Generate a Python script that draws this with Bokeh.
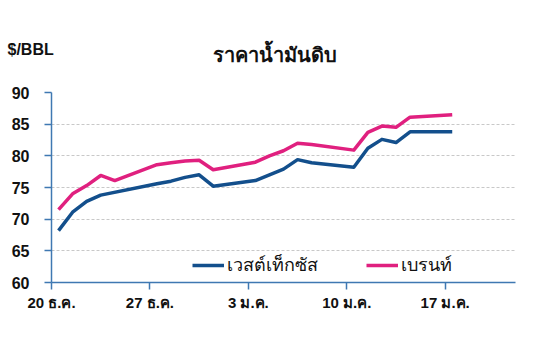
import pandas as pd
from bokeh.plotting import figure
from bokeh.models import Range1d, FixedTicker, Title, Legend, LegendItem
from bokeh.embed import file_html
from bokeh.resources import INLINE

# ---- data ----
title_text = "ราคาน้ำมันดิบ"
unit_text = "$/BBL"
series_names = ["เวสต์เท็กซัส", "เบรนท์"]

wti_dates = ["2021-12-20", "2021-12-21", "2021-12-22", "2021-12-23", "2021-12-27",
             "2021-12-28", "2021-12-29", "2021-12-30", "2021-12-31", "2022-01-03",
             "2022-01-04", "2022-01-05", "2022-01-06", "2022-01-07", "2022-01-10",
             "2022-01-11", "2022-01-12", "2022-01-13", "2022-01-14", "2022-01-17"]
wti_values = [68.2, 71.1, 72.8, 73.8, 75.6, 76.0, 76.6, 77.0, 75.2, 76.1,
              77.0, 77.9, 79.4, 78.9, 78.2, 81.2, 82.6, 82.1, 83.8, 83.8]

brent_dates = ["2021-12-20", "2021-12-21", "2021-12-22", "2021-12-23", "2021-12-24",
               "2021-12-27", "2021-12-28", "2021-12-29", "2021-12-30", "2021-12-31",
               "2022-01-03", "2022-01-04", "2022-01-05", "2022-01-06", "2022-01-07",
               "2022-01-10", "2022-01-11", "2022-01-12", "2022-01-13", "2022-01-14",
               "2022-01-17"]
brent_values = [71.5, 74.0, 75.3, 76.9, 76.1, 78.6, 78.9, 79.2, 79.3, 77.8,
                79.0, 80.0, 80.8, 82.0, 81.8, 80.9, 83.7, 84.7, 84.5, 86.1, 86.5]

tick_dates = ["2021-12-20", "2021-12-27", "2022-01-03", "2022-01-10", "2022-01-17"]
tick_labels = ["20 ธ.ค.", "27 ธ.ค.", "3 ม.ค.", "10 ม.ค.", "17 ม.ค."]
axis_start = "2021-12-20"
axis_end = "2022-01-22"
y_ticks = [60, 65, 70, 75, 80, 85, 90]

# ---- helpers: days from axis start, points at mid-day ----
t0 = pd.Timestamp(axis_start)
def day_pos(ds, offset=0.5):
    return [(pd.Timestamp(d) - t0).days + offset for d in ds]

wti_x = day_pos(wti_dates)
brent_x = day_pos(brent_dates)
tick_x = day_pos(tick_dates, 0)
x_end = (pd.Timestamp(axis_end) - t0).days

BLUE = "#134f8c"
PINK = "#e0207f"
AXIS = "#3f78b2"
FONT = "Liberation Sans"

p = figure(width=534, height=356, output_backend="svg", toolbar_location=None,
           x_range=Range1d(0, x_end), y_range=Range1d(60, 90),
           min_border_left=51, min_border_right=19, min_border_top=92,
           min_border_bottom=74)
p.outline_line_color = None
p.background_fill_color = "white"
p.border_fill_color = "white"

r1 = p.line(wti_x, wti_values, line_color=BLUE, line_width=3.5, line_join="round")
r2 = p.line(brent_x, brent_values, line_color=PINK, line_width=3.5, line_join="round")

# axes
p.xaxis.ticker = FixedTicker(ticks=tick_x)
p.xaxis.major_label_overrides = {t: l for t, l in zip(tick_x, tick_labels)}
p.yaxis.ticker = FixedTicker(ticks=y_ticks)
for ax in (p.xaxis, p.yaxis):
    ax.axis_line_color = AXIS
    ax.axis_line_width = 1.5
    ax.major_tick_line_color = AXIS
    ax.major_tick_line_width = 1.5
    ax.major_tick_out = 7
    ax.major_tick_in = 0
    ax.minor_tick_line_color = None
    ax.major_label_text_font = FONT
    ax.major_label_text_font_style = "bold"
    ax.major_label_text_color = "#111111"
p.xaxis.major_label_text_font_size = "15px"
p.xaxis.major_label_standoff = 4
p.yaxis.major_label_text_font_size = "16px"
p.yaxis.major_label_standoff = 15

p.xgrid.grid_line_color = None
p.ygrid.grid_line_color = "#c8c8c8"
p.ygrid.grid_line_dash = "3 2"
p.ygrid.grid_line_width = 1

# legend
legend = Legend(items=[LegendItem(label=series_names[0], renderers=[r1]),
                       LegendItem(label=series_names[1], renderers=[r2])],
                orientation="horizontal", location=(141, 3),
                glyph_width=32, glyph_height=20, label_standoff=3, spacing=48,
                padding=0, margin=0, border_line_color=None,
                background_fill_alpha=0,
                label_text_font_size="18px", label_text_color="#111111")
p.add_layout(legend, "center")

# title and unit
p.title.text = title_text
p.title.align = "left"
p.title.offset = 161
p.title.text_font_size = "20px"
p.title.text_font_style = "bold"
p.title.text_color = "#111111"
p.title.standoff = -122
p.add_layout(Title(text=unit_text, align="left", offset=-44, standoff=69,
                   text_font=FONT, text_font_size="16px", text_font_style="bold",
                   text_color="#111111"), "above")

open("out.html", "w").write(file_html(p, INLINE))
